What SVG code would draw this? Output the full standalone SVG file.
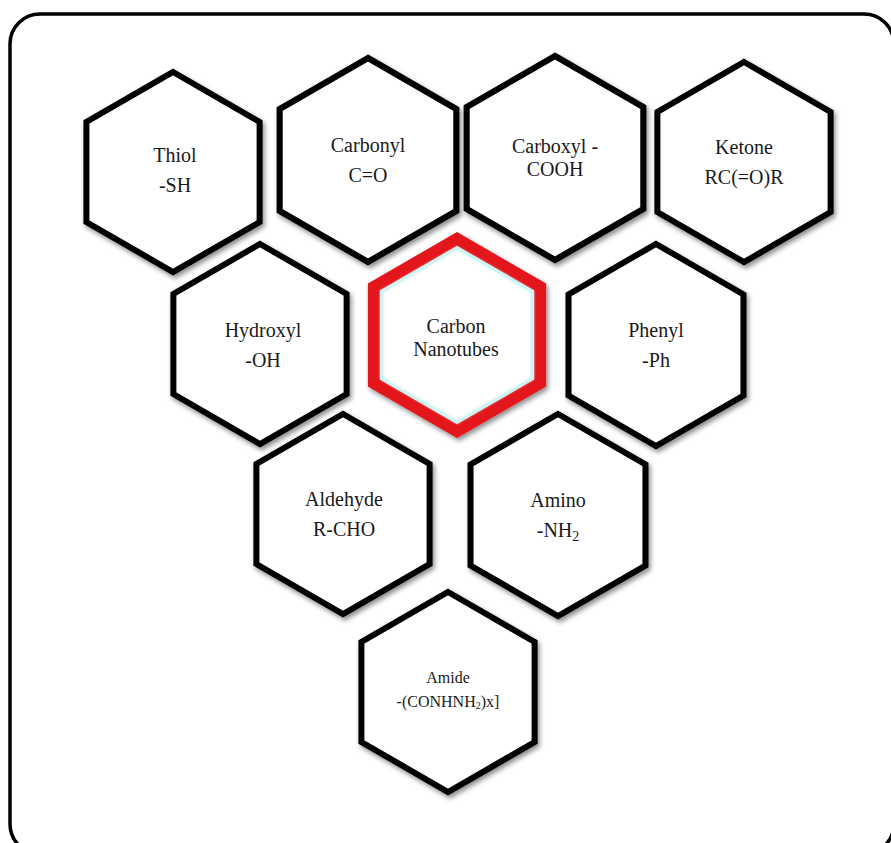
<svg xmlns="http://www.w3.org/2000/svg" xmlns:xlink="http://www.w3.org/1999/xlink" width="891" height="843" viewBox="0 0 891 843">
<style>
.hex{fill:#fff;stroke:#000;stroke-width:6;stroke-linejoin:miter;filter:url(#sh)}
.core{fill:#fff;stroke:#e3141b;stroke-width:12;stroke-linejoin:miter;filter:url(#sh)}
.glow{fill:none;stroke:#bfeff0;stroke-width:3;filter:url(#bl)}
.t{font-family:'Liberation Serif','DejaVu Serif',serif;font-size:20px;fill:#1a1a1a;text-anchor:middle}
.s{font-size:16px}
</style>
<defs>
<filter id="sh" x="-20%" y="-20%" width="140%" height="140%">
<feDropShadow dx="2" dy="3" stdDeviation="2.5" flood-color="#000" flood-opacity="0.45"/>
</filter>
<filter id="bl" x="-10%" y="-10%" width="120%" height="120%"><feGaussianBlur stdDeviation="1"/></filter>
<polygon id="hx" points="0,-100 86.6,-50 86.6,50 0,100 -86.6,50 -86.6,-50"/>
<polygon id="hc" points="0,-96 83.1,-48 83.1,48 0,96 -83.1,48 -83.1,-48"/>
<polygon id="hg" points="0,-87 75.3,-43.5 75.3,43.5 0,87 -75.3,43.5 -75.3,-43.5"/>
</defs>
<rect width="891" height="843" fill="#fff"/>
<rect x="10" y="14" width="884" height="840" rx="30" ry="30" fill="none" stroke="#000" stroke-width="3.5"/>
<g id="connectors"/>
<g id="thiol" font-family="Liberation Serif, serif"><use xlink:href="#hx" class="hex" transform="translate(173,172)"/>
<text class="t" x="175" y="162">Thiol</text><text class="t" x="175" y="192">-SH</text></g>
<g id="carbonyl" font-family="Liberation Serif, serif"><use xlink:href="#hx" class="hex" transform="translate(368,160) scale(1.02)"/>
<text class="t" x="368" y="152">Carbonyl</text><text class="t" x="368" y="182">C=O</text></g>
<g id="carboxyl" font-family="Liberation Serif, serif"><use xlink:href="#hx" class="hex" transform="translate(555,158) scale(1.02)"/>
<text class="t" x="555" y="153">Carboxyl -</text><text class="t" x="555" y="176">COOH</text></g>
<g id="ketone" font-family="Liberation Serif, serif"><use xlink:href="#hx" class="hex" transform="translate(744,162)"/>
<text class="t" x="744" y="154">Ketone</text><text class="t" x="744" y="184">RC(=O)R</text></g>
<g id="hydroxyl" font-family="Liberation Serif, serif"><use xlink:href="#hx" class="hex" transform="translate(260,344)"/>
<text class="t" x="263" y="337">Hydroxyl</text><text class="t" x="263" y="367">-OH</text></g>
<g id="phenyl" font-family="Liberation Serif, serif"><use xlink:href="#hx" class="hex" transform="translate(656,345) scale(1.01)"/>
<text class="t" x="656" y="337">Phenyl</text><text class="t" x="656" y="367">-Ph</text></g>
<g id="aldehyde" font-family="Liberation Serif, serif"><use xlink:href="#hx" class="hex" transform="translate(343,514)"/>
<text class="t" x="344" y="506">Aldehyde</text><text class="t" x="344" y="536">R-CHO</text></g>
<g id="amino" font-family="Liberation Serif, serif"><use xlink:href="#hx" class="hex" transform="translate(558,515) scale(1.01)"/>
<text class="t" x="558" y="507">Amino</text><text class="t" x="558" y="537">-NH<tspan font-size="14" dy="4">2</tspan></text></g>
<g id="amide" font-family="Liberation Serif, serif"><use xlink:href="#hx" class="hex" transform="translate(448,692)"/>
<text class="t s" x="448" y="683">Amide</text><text class="t s" x="448" y="707">-(CONHNH<tspan font-size="10" dy="2">2</tspan><tspan dy="-2">)x]</tspan></text></g>
<g id="carbon-nanotubes" font-family="Liberation Serif, serif"><use xlink:href="#hc" class="core" transform="translate(457,335)"/>
<use xlink:href="#hg" class="glow" transform="translate(457,335)"/>
<text class="t" x="456" y="333">Carbon</text><text class="t" x="456" y="356">Nanotubes</text></g>
</svg>
